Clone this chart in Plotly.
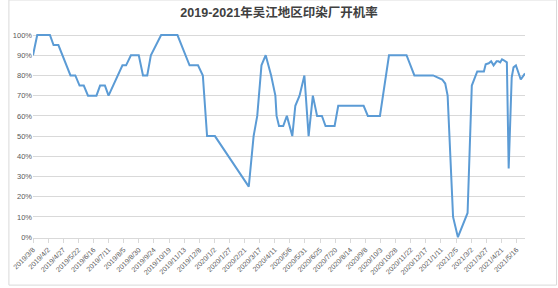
import plotly.graph_objects as go

# ---- data ----
dates = [
    "2019-03-08", "2019-03-15", "2019-04-05", "2019-04-11", "2019-04-19",
    "2019-05-09", "2019-05-17", "2019-05-24", "2019-05-31", "2019-06-07",
    "2019-06-21", "2019-06-27", "2019-07-05", "2019-07-11", "2019-08-03",
    "2019-08-09", "2019-08-17", "2019-08-30", "2019-09-06", "2019-09-13",
    "2019-09-19", "2019-10-06", "2019-11-02", "2019-11-22", "2019-12-06",
    "2019-12-14", "2019-12-21", "2020-01-03", "2020-02-28", "2020-03-07",
    "2020-03-13", "2020-03-20", "2020-03-27", "2020-04-05", "2020-04-12",
    "2020-04-14", "2020-04-18", "2020-04-25", "2020-05-01", "2020-05-10",
    "2020-05-15", "2020-05-22", "2020-05-30", "2020-06-06", "2020-06-13",
    "2020-06-20", "2020-06-28", "2020-07-04", "2020-07-19", "2020-07-25",
    "2020-09-05", "2020-09-12", "2020-10-02", "2020-10-17", "2020-11-15",
    "2020-11-28", "2020-12-29", "2021-01-06", "2021-01-13", "2021-01-18",
    "2021-01-22", "2021-01-31", "2021-02-08", "2021-02-24", "2021-03-03",
    "2021-03-12", "2021-03-23", "2021-03-26", "2021-03-31", "2021-04-04",
    "2021-04-08", "2021-04-13", "2021-04-16", "2021-04-19", "2021-04-22",
    "2021-04-25", "2021-04-30", "2021-05-03", "2021-05-08", "2021-05-11",
    "2021-05-15", "2021-05-23", "2021-05-30",
]
rate = [
    90, 100, 100, 95, 95,
    80, 80, 75, 75, 70,
    70, 75, 75, 70, 85,
    85, 90, 90, 80, 80,
    90, 100, 100, 85, 85,
    80, 50, 50, 25, 50,
    60, 85, 90, 80, 70,
    60, 55, 55, 60, 50,
    65, 70, 80, 50, 70,
    60, 60, 55, 55, 65,
    65, 60, 60, 90, 90,
    80, 80, 79, 78, 76,
    70, 10, 0, 12, 75,
    82, 82, 85.5, 86, 87,
    85, 87, 87, 86.5, 88,
    87.5, 86.5, 34, 79, 84,
    85, 78, 81,
]
tick_dates = [
    "2019-03-08", "2019-04-02", "2019-04-27", "2019-05-22", "2019-06-16",
    "2019-07-11", "2019-08-05", "2019-08-30", "2019-09-24", "2019-10-19",
    "2019-11-13", "2019-12-08", "2020-01-02", "2020-01-27", "2020-02-21",
    "2020-03-17", "2020-04-11", "2020-05-06", "2020-05-31", "2020-06-25",
    "2020-07-20", "2020-08-14", "2020-09-08", "2020-10-03", "2020-10-28",
    "2020-11-22", "2020-12-17", "2021-01-11", "2021-02-05", "2021-03-02",
    "2021-03-27", "2021-04-21", "2021-05-16",
]
tick_labels = [
    "2019/3/8", "2019/4/2", "2019/4/27", "2019/5/22", "2019/6/16",
    "2019/7/11", "2019/8/5", "2019/8/30", "2019/9/24", "2019/10/19",
    "2019/11/13", "2019/12/8", "2020/1/2", "2020/1/27", "2020/2/21",
    "2020/3/17", "2020/4/11", "2020/5/6", "2020/5/31", "2020/6/25",
    "2020/7/20", "2020/8/14", "2020/9/8", "2020/10/3", "2020/10/28",
    "2020/11/22", "2020/12/17", "2021/1/11", "2021/2/5", "2021/3/2",
    "2021/3/27", "2021/4/21", "2021/5/16",
]
title_text = "2019-2021年吴江地区印染厂开机率"

FONT = "Liberation Sans, Arial, Noto Sans CJK SC, sans-serif"

fig = go.Figure()
fig.add_trace(go.Scatter(
    x=dates, y=rate, mode="lines",
    line=dict(color="#5b9bd5", width=2),
    hoverinfo="x+y",
))

fig.update_layout(
    width=558, height=288,
    margin=dict(l=25, r=33, t=34, b=48),
    paper_bgcolor="white", plot_bgcolor="white",
    showlegend=False,
    title=dict(
        text="<b>" + title_text + "</b>",
        x=0.5, xref="paper", xanchor="center",
        y=0.955, yref="container", yanchor="middle",
        font=dict(family=FONT, size=12.5, color="#404040"),
    ),
    font=dict(family=FONT, color="#595959"),
)
fig.update_xaxes(
    type="date",
    range=["2019-03-08", "2021-05-30"],
    tickmode="array", tickvals=tick_dates, ticktext=tick_labels,
    tickangle=-45, tickfont=dict(size=7, color="#595959"),
    showgrid=False, zeroline=False,
    showline=True, linecolor="#d9d9d9", linewidth=1,
    ticks="outside", ticklen=4, tickcolor="#d9d9d9",
)
fig.update_yaxes(
    range=[-0.4, 100.5],
    tickmode="array", tickvals=list(range(0, 101, 10)),
    ticktext=[f"{v}%" for v in range(0, 101, 10)],
    tickfont=dict(size=7.5, color="#595959"),
    showgrid=True, gridcolor="#d9d9d9", gridwidth=1,
    zeroline=False, showline=False, ticks="",
)
# chart-area border
fig.add_shape(type="rect", xref="paper", yref="paper",
              x0=-0.049, x1=1.064, y0=-0.231, y1=1.167,
              line=dict(color="#d9d9d9", width=1), layer="below")

fig.write_html("out.html")
